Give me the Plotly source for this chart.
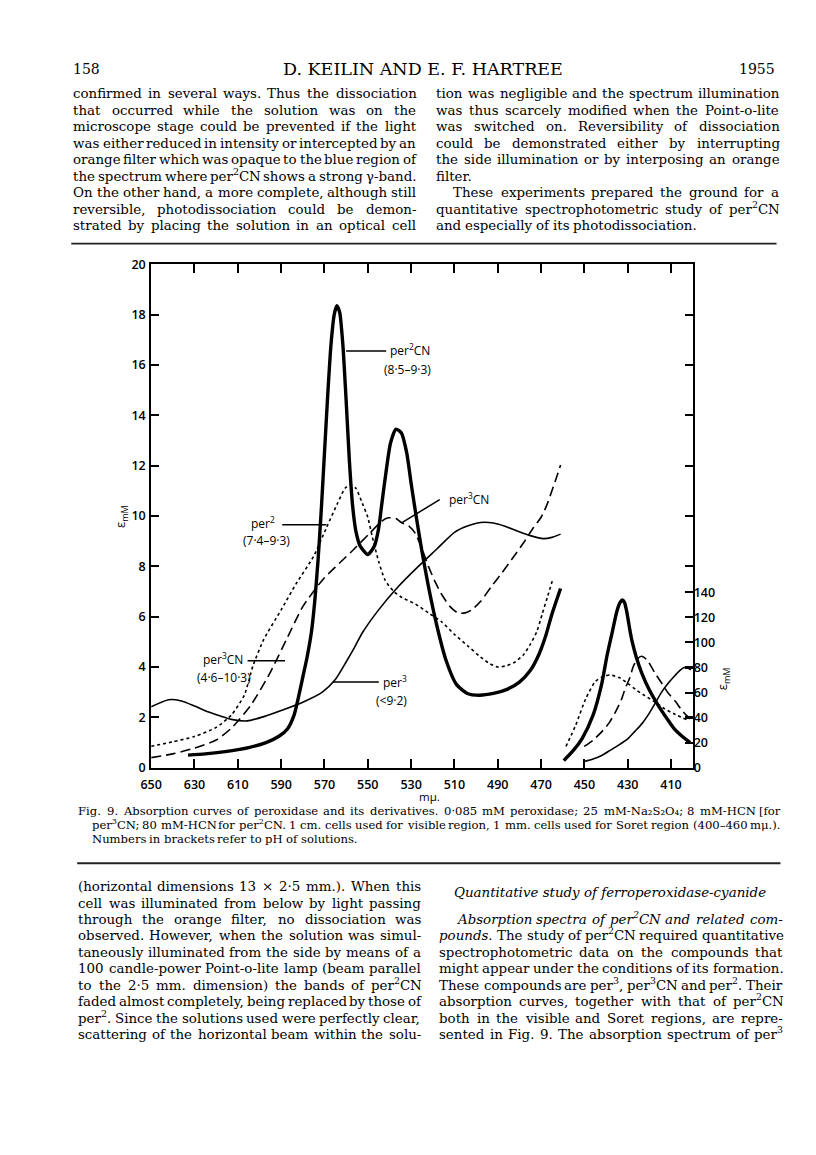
import re
import plotly.graph_objects as go

# ---- visible region (left axis, eps mM) ----
per2cn_nm = [633, 625, 615, 605, 597, 591, 587, 584, 582, 580, 578, 576, 574.5, 573, 571.5,
             570, 568.5, 567, 565.5, 564.3, 563, 561.5, 560, 558.5, 557, 555.5, 553.5, 550,
             547, 545, 543.5, 541.5, 539.5, 537, 534.5, 532, 530, 527.5, 525, 522, 518, 514,
             509, 504, 498.5, 492, 486, 480, 475, 471, 468, 465, 461]
per2cn_eps = [0.5, 0.55, 0.65, 0.8, 1.0, 1.25, 1.55, 2.1, 2.8, 3.6, 4.4, 5.4, 6.6, 8.2, 10.2,
              12.5, 14.8, 16.8, 18.0, 18.35, 18.1, 16.8, 14.6, 12.2, 10.4, 9.4, 8.8, 8.47,
              8.8, 9.5, 10.5, 11.8, 12.9, 13.45, 13.3, 12.5, 11.3, 9.9, 8.6, 7.2, 5.6, 4.3,
              3.3, 2.95, 2.88, 2.95, 3.1, 3.4, 3.86, 4.5, 5.2, 6.1, 7.12]

per2_nm = [650, 640, 630, 620, 613, 607, 603, 598, 590, 583, 575, 569, 564, 560.5, 558, 555.5,
           552.5, 550, 548, 545, 542, 538, 534, 528, 522, 516, 510, 504, 498, 494, 490, 486,
           482, 478, 475, 472, 469.5, 467, 464.5]
per2_eps = [0.85, 1.03, 1.24, 1.6, 2.09, 2.88, 4.05, 5.1, 6.27, 7.32, 8.4, 9.55, 10.5, 11.1,
            11.25, 11.1, 10.5, 9.95, 9.2, 8.2, 7.45, 7.0, 6.75, 6.5, 6.15, 5.8, 5.3, 4.85, 4.4,
            4.15, 4.0, 4.05, 4.2, 4.5, 4.9, 5.4, 6.1, 6.8, 7.52]

per3cn_nm = [650, 640, 630, 620, 613, 604, 595, 587.5, 580, 571, 565, 557, 549.5, 543.5, 540.5,
             537, 534.5, 531, 528, 525, 522, 519, 516, 512, 508.5, 505, 502, 498, 493, 488,
             482.5, 478, 473.5, 470, 467.5, 465, 463, 461]
per3cn_eps = [0.4, 0.55, 0.78, 1.1, 1.57, 2.48, 3.79, 5.1, 6.4, 7.45, 7.97, 8.63, 9.28, 9.8,
              9.93, 9.9, 9.74, 9.6, 9.3, 8.7, 8.0, 7.4, 6.9, 6.4, 6.15, 6.15, 6.27, 6.6, 7.19,
              7.75, 8.4, 8.95, 9.54, 9.95, 10.4, 11.0, 11.5, 12.03]

per3_nm = [650, 642, 636, 630, 623.8, 618, 613, 605.6, 598, 589, 580, 571, 565, 560, 556, 552.5,
           545, 536, 527, 518, 510, 504, 498, 492, 487, 481, 475, 469, 465, 461]
per3_eps = [2.42, 2.7, 2.65, 2.45, 2.22, 2.05, 1.92, 1.86, 2.03, 2.3, 2.6, 3.0, 3.5, 4.2, 4.8,
            5.36, 6.27, 7.19, 7.97, 8.7, 9.35, 9.6, 9.74, 9.72, 9.6, 9.4, 9.22, 9.1, 9.15, 9.28]

# ---- Soret region (right axis, eps mM) ----
soret_per2cn_nm = [459.5, 455, 451, 446, 442, 439.5, 437.3, 435, 433.5, 432.5, 431.5, 430.5, 429,
                   428, 426, 423.6, 420, 416, 412, 408.5, 404.5, 401.2]
soret_per2cn_eps = [5.7, 14, 23.5, 42, 67, 90, 107, 125, 132, 134, 132, 125, 110, 101, 88, 76,
                    62, 50, 39.5, 31, 24.5, 20]

soret_per2_nm = [458.5, 454, 449.4, 444.9, 441, 438, 434, 429.7, 426, 422.1, 417, 413, 408, 402.4]
soret_per2_eps = [17, 34, 55, 69, 73, 74, 72, 67, 62, 57.5, 52, 47, 42.5, 38]

soret_per3cn_nm = [450.1, 446, 441.8, 438.5, 435.8, 433, 431.2, 429, 427.4, 425.5, 423.6, 421,
                   417.6, 414.5, 411.5, 408, 405.5, 403, 401.2]
soret_per3cn_eps = [17, 22, 29, 36, 44, 54, 63, 72, 81, 87, 89, 86, 76, 68, 60, 53, 47, 42, 39]

soret_per3_nm = [450.1, 446, 441.8, 438, 434.2, 430, 426.7, 423.5, 420.6, 417.5, 414.5, 411.5,
                 408.5, 406, 403.9, 402, 400.9]
soret_per3_eps = [5, 7, 10, 14, 18, 23, 29, 35, 42, 51, 60, 67, 73, 77.5, 80, 79.5, 78]

x_ticks = list(range(650, 409, -20))
left_ticks = list(range(0, 21, 2))
right_ticks = list(range(0, 141, 20))

# page text (leading spaces = paragraph indent)
header = ["158", "D. KEILIN AND E. F. HARTREE", "1955"]
top_left = [
    "confirmed in several ways. Thus the dissociation",
    "that occurred while the solution was on the",
    "microscope stage could be prevented if the light",
    "was either reduced in intensity or intercepted by an",
    "orange filter which was opaque to the blue region of",
    "the spectrum where per<sup>2</sup>CN shows a strong γ-band.",
    "On the other hand, a more complete, although still",
    "reversible, photodissociation could be demon-",
    "strated by placing the solution in an optical cell",
]
top_right = [
    "tion was negligible and the spectrum illumination",
    "was thus scarcely modified when the Point-o-lite",
    "was switched on. Reversibility of dissociation",
    "could be demonstrated either by interrupting",
    "the side illumination or by interposing an orange",
    "filter.",
    "  These experiments prepared the ground for a",
    "quantitative spectrophotometric study of per<sup>2</sup>CN",
    "and especially of its photodissociation.",
]
top_right_ragged = [5, 8]
caption = [
    "Fig. 9. Absorption curves of peroxidase and its derivatives. 0·085 mM peroxidase; "
    "25 mM-Na₂S₂O₄; 8 mM-HCN [for",
    "per<sup>3</sup>CN; 80 mM-HCN for per<sup>2</sup>CN. 1 cm. cells used for visible region, "
    "1 mm. cells used for Soret region (400–460 mμ.).",
    "Numbers in brackets refer to pH of solutions.",
]
bottom_left = [
    "(horizontal dimensions 13 × 2·5 mm.). When this",
    "cell was illuminated from below by light passing",
    "through the orange filter, no dissociation was",
    "observed. However, when the solution was simul-",
    "taneously illuminated from the side by means of a",
    "100 candle-power Point-o-lite lamp (beam parallel",
    "to the 2·5 mm. dimension) the bands of per<sup>2</sup>CN",
    "faded almost completely, being replaced by those of",
    "per<sup>2</sup>. Since the solutions used were perfectly clear,",
    "scattering of the horizontal beam within the solu-",
]
bottom_right_head = "<i>Quantitative study of ferroperoxidase-cyanide</i>"
bottom_right = [
    "  <i>Absorption spectra of per<sup>2</sup>CN and related com-</i>",
    "<i>pounds</i>. The study of per<sup>2</sup>CN required quantitative",
    "spectrophotometric data on the compounds that",
    "might appear under the conditions of its formation.",
    "These compounds are per<sup>3</sup>, per<sup>3</sup>CN and per<sup>2</sup>. Their",
    "absorption curves, together with that of per<sup>2</sup>CN",
    "both in the visible and Soret regions, are repre-",
    "sented in Fig. 9. The absorption spectrum of per<sup>3</sup>",
]

# approximate DejaVu Serif advance widths (em), used to justify the columns
GLYPH = dict(zip("abcdefghijklmnopqrstuvwxyz",
                 [.596, .640, .560, .640, .592, .370, .640, .644, .320, .310, .606, .320, .948,
                  .644, .602, .640, .640, .478, .513, .402, .644, .565, .856, .564, .565, .527]))
GLYPH.update(zip("ABCDEFGHIJKLMNOPQRSTUVWXYZ",
                 [.722, .735, .720, .802, .729, .694, .799, .872, .395, .401, .747, .694, .990,
                  .837, .820, .703, .820, .770, .685, .703, .812, .722, 1.028, .740, .700, .690]))
GLYPH.update({c: .636 for c in "0123456789"})
GLYPH.update({" ": .318, ".": .318, ",": .318, ";": .337, ":": .337, "-": .338, "(": .390,
              ")": .390, "[": .390, "]": .390, "×": .838, "·": .318, "–": .500, "γ": .590,
              "μ": .660, "<": .838, "₂": .400, "₄": .400})


def em(s):
    total = 0.0
    for part in re.split(r"(<su[pb]>.*?</su[pb]>)", s):
        scale = 0.7 if part.startswith("<su") else 1.0
        plain = re.sub(r"<[^>]+>", "", part)
        total += scale * sum(GLYPH.get(c, 0.6) for c in plain)
    return total


# page geometry (reference pixels); the html body adds an 8 px margin
OFF = 8
FW, FH = 816 - OFF, 1155 - OFF
L, R, T, B = 142, 691, 259, 770

SERIF = "DejaVu Serif"
SANS = "Open Sans"

fig = go.Figure()


def curve(x, y, width, dash, yaxis="y"):
    fig.add_trace(go.Scatter(
        x=x, y=y, mode="lines", yaxis=yaxis, showlegend=False, hoverinfo="skip",
        line=dict(color="black", width=width, dash=dash, shape="spline", smoothing=0.6),
    ))


curve(per3_nm, per3_eps, 1.6, "solid")
curve(per2_nm, per2_eps, 1.6, "3px,3px")
curve(per3cn_nm, per3cn_eps, 1.6, "10px,5px")
curve(per2cn_nm, per2cn_eps, 3.4, "solid")
curve(soret_per3_nm, soret_per3_eps, 1.6, "solid", "y2")
curve(soret_per2_nm, soret_per2_eps, 1.6, "3px,3px", "y2")
curve(soret_per3cn_nm, soret_per3cn_eps, 1.6, "10px,5px", "y2")
curve(soret_per2cn_nm, soret_per2cn_eps, 3.4, "solid", "y2")
# empty trace that carries the page-pixel axes used for all text around the chart
fig.add_trace(go.Scatter(x=[None], y=[None], xaxis="x3", yaxis="y3", showlegend=False,
                         hoverinfo="skip"))

tickfont = dict(family=SANS, size=12.5, color="black", weight=600)
fig.update_layout(
    width=FW, height=FH, paper_bgcolor="white", plot_bgcolor="rgba(0,0,0,0)",
    margin=dict(l=0, r=0, t=0, b=0, pad=0),
    xaxis=dict(domain=[(L - OFF) / FW, (R - OFF) / FW], range=[650, 400], tickvals=x_ticks,
               ticks="inside", ticklen=9, tickwidth=1.6, tickcolor="black", showline=True,
               linecolor="black", linewidth=2, mirror="ticks", showgrid=False, zeroline=False,
               tickfont=tickfont, ticklabelstandoff=4),
    yaxis=dict(domain=[1 - (B - OFF) / FH, 1 - (T - OFF) / FH], range=[0, 20],
               tickvals=left_ticks, ticks="inside", ticklen=8, tickwidth=1.6, tickcolor="black",
               showline=True, linecolor="black", linewidth=2, mirror="ticks", showgrid=False,
               zeroline=False, tickfont=tickfont, ticklabelstandoff=1),
    yaxis2=dict(range=[0, 402], overlaying="y", side="right", tickvals=right_ticks,
                ticks="inside", ticklen=8, tickwidth=1.6, tickcolor="black", showline=False,
                showgrid=False, zeroline=False, tickfont=tickfont, ticklabelstandoff=0),
    xaxis3=dict(domain=[0, 1], range=[OFF, 816], visible=False, anchor="y3", fixedrange=True),
    yaxis3=dict(domain=[0, 1], range=[1155, OFF], visible=False, anchor="x3", fixedrange=True),
)

ann = []
shapes = []
lab = dict(family=SANS, size=12, color="black")

# curve labels (data coordinates) and leader lines
labels = [
    ("per<sup>2</sup>CN", 540.5, 16.6, "left"),
    ("(8·5–9·3)", 531.5, 15.8, "center"),
    ("per<sup>3</sup>CN", 513.2, 10.67, "left"),
    ("per<sup>2</sup>", 591.8, 9.74, "right"),
    ("(7·4–9·3)", 596.8, 9.04, "center"),
    ("per<sup>3</sup>CN", 606.5, 4.3, "right"),
    ("(4·6–10·3)", 616.5, 3.6, "center"),
    ("per<sup>3</sup>", 544.0, 3.4, "left"),
    ("(<9·2)", 539.0, 2.66, "center"),
]
for t, x, y, a in labels:
    ann.append(dict(x=x, y=y, xref="x", yref="y", text=t, showarrow=False, xanchor=a,
                    yanchor="middle", font=lab))

leaders = [
    (560.0, 16.55, 541.5, 16.55),
    (534.2, 9.74, 516.8, 10.65),
    (589.5, 9.65, 569.1, 9.65),
    (605.5, 4.25, 588.2, 4.25),
    (566.0, 3.4, 544.9, 3.4),
]
for x0, y0, x1, y1 in leaders:
    shapes.append(dict(type="line", xref="x", yref="y", x0=x0, y0=y0, x1=x1, y1=y1,
                       line=dict(color="black", width=1.5)))


def page(x, y, s, size, anchor="left", family=SERIF, angle=0, valign="middle"):
    ann.append(dict(x=x, y=y, xref="x3", yref="y3", text=s, showarrow=False, xanchor=anchor,
                    yanchor=valign, textangle=angle,
                    font=dict(family=family, size=size, color="black")))


# axis titles
page(112, 515, "ε<sub>mM</sub>", 13, "center", SANS, -90)
page(722, 680, "ε<sub>mM</sub>", 13, "center", SANS, -90)
page(424, 799, "mμ.", 11.5, "center", SANS)


def line(x0, x1, y, s, size, justify=True):
    indent = 17 if s.startswith(" ") else 0
    words = s.split()
    widths = [em(w) * size for w in words]
    gap = 0.318 * size
    if justify and len(words) > 1:
        gap = (x1 - x0 - indent - sum(widths)) / (len(words) - 1)
    x = x0 + indent
    italic = False
    for w, wd in zip(words, widths):
        t = ("<i>" if italic else "") + w
        if "<i>" in w:
            italic = True
        if "</i>" in w and w.rfind("</i>") > w.rfind("<i>"):
            italic = False
        if italic:
            t += "</i>"
        # bottom-anchored so that superscripts do not shift the word off the baseline
        page(x, y + 0.62 * size, t, size, valign="bottom")
        x += wd + gap


BODY = 13.4
page(61, 61, header[0], 14)
page(418, 61, header[1], 17.5, "center")
page(776, 61, header[2], 14, "right")
for i, s in enumerate(top_left):
    line(61, 408, 87 + 16.75 * i, s, BODY)
for i, s in enumerate(top_right):
    line(429, 776, 87 + 16.75 * i, s, BODY, i not in top_right_ragged)

line(66, 778, 816, caption[0], 11.6)
line(80, 778, 830, caption[1], 11.6)
line(80, 778, 844, caption[2], 11.6, False)

for i, s in enumerate(bottom_left):
    line(66, 413, 892 + 16.7 * i, s, BODY)
page(607, 897, bottom_right_head, BODY, "center")
for i, s in enumerate(bottom_right):
    line(432, 780, 892 + 16.7 * (i + 2), s, BODY)

for yy, xa, xb in ((238, 61, 776), (867, 67, 780)):
    shapes.append(dict(type="line", xref="x3", yref="y3", x0=xa, x1=xb, y0=yy, y1=yy,
                       line=dict(color="#222", width=1.8)))

fig.update_layout(annotations=ann, shapes=shapes)
fig.write_html("out.html")
